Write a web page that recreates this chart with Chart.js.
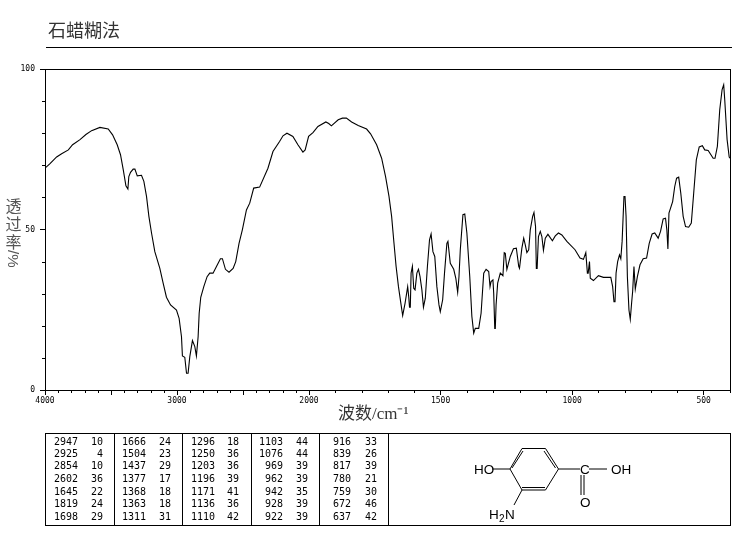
<!DOCTYPE html>
<html>
<head>
<meta charset="utf-8">
<title>石蜡糊法</title>
<script src="https://cdn.jsdelivr.net/npm/chart.js@4/dist/chart.umd.min.js"></script>
<style>
  html, body { margin: 0; padding: 0; background: #fff; }
  #page { position: relative; width: 737px; height: 539px; overflow: hidden; }
  canvas { position: absolute; left: 0; top: 0; }
  #title { position: absolute; left: 48px; top: 16px; font: 18px "Noto Sans CJK SC", sans-serif; color: #333; line-height: 26px; }
  #rule { position: absolute; left: 46px; top: 47px; width: 686px; height: 1px; background: #000; }
  #xname { position: absolute; left: 338px; top: 403px; font: 17px "Liberation Serif", "Noto Sans CJK SC", serif; color: #333; line-height: 22px; white-space: nowrap; }
  #yname { position: absolute; left: 5px; top: 196px; width: 17px; font: 16px "Noto Sans CJK SC", sans-serif; color: #555; line-height: 18px; text-align: center; }
  #yname div { height: 18px; }
  #yname .rot { height: 18px; writing-mode: vertical-rl; font: 15px "Liberation Sans", sans-serif; line-height: 17px; white-space: nowrap; }
  #peaks { position: absolute; left: 45px; top: 433px; width: 684px; height: 91px; border: 1px solid #000; box-sizing: content-box; }
  .sep { position: absolute; top: 0; width: 1px; height: 91px; background: #000; }
  .cell { position: absolute; font: 10px "DejaVu Sans Mono", monospace; color: #000; line-height: 12px; text-align: right; white-space: pre; }
  #mol { position: absolute; left: 0; top: 0; }
  #mol text { font: 13.500px "Liberation Sans", sans-serif; fill: #000; }
</style>
</head>
<body>
<div id="page">
  <canvas id="irChart" width="737" height="539"></canvas>
  <div id="title">石蜡糊法</div>
  <div id="rule"></div>
  <div id="xname">波数/cm⁻¹</div>
  <div id="yname"><div>透</div><div>过</div><div>率</div><div class="rot">/%</div></div>
  <div id="peaks"></div>
  <svg id="mol" width="737" height="539">
    <g stroke="#000" stroke-width="1" fill="none">
      <path d="M522 448.5H545.500L558.500 469L545.500 490H522L510 469Z"/>
      <path d="M523 451L512 468M544 451L555.500 468M522 487.500H545"/>
      <path d="M492 469H510M558.500 469H580M589 469H607M581 475V495M584 475V495M522 490L514 505"/>
    </g>
    <text x="474" y="474">HO</text>
    <text x="580" y="474">C</text>
    <text x="611" y="474">OH</text>
    <text x="580" y="507">O</text>
    <text x="489" y="519">H</text>
    <text x="499" y="522" style="font-size:10px">2</text>
    <text x="505" y="519">N</text>
  </svg>
</div>
<script>
// 横轴波数 (cm-1)
const wavenumbers = [4000,3962,3912,3874,3823,3791,3735,3690,3647,3584,3521,3488,3453,3428,3407,3387,3372,3365,3352,3332,3319,3301,3269,3251,3231,3213,3193,3168,3130,3105,3080,3049,3004,2984,2966,2959,2941,2928,2916,2903,2883,2865,2853,2840,2832,2820,2797,2772,2752,2727,2701,2671,2656,2633,2606,2575,2555,2530,2505,2474,2449,2419,2374,2311,2273,2223,2197,2167,2122,2084,2046,2029,2003,
  1985,1966,1936,1925,1915,1889,1873,1858,1838,1813,1781,1766,1743,1724,1709,1696,1686,1677,1669,1660,1650,1644,1635,1625,1621,1618,1615,1612,1607,1602,1597,1590,1584,1578,1571,1565,1558,1550,1542,1536,1529,1522,1514,1506,1501,1492,1485,1476,1472,1463,1450,1442,1435,1430,1425,1415,1408,1400,1389,1381,1374,1368,1355,1346,1336,1327,
  1317,1312,1308,1301,1298,1294,1292,1289,1283,1273,1263,1258,1254,1248,1235,1223,1212,1203,1200,1191,1184,1178,1172,1165,1159,1150,1145,1139,1136,1133,1128,1121,1115,1109,1102,1092,1075,1064,1052,1039,1020,989,970,957,948,942,939,934,931,919,900,881,853,846,841,837,833,827,820,815,810,803,799,795,790,784,779,774,770,765,760,752,742,730,717,707,696,686,673,664,654,645,640,636,632,618,610,603,595,587,578,569,557,547,538,528,517,505,496,483,464,457,448,439,430,424,420,411,403,400];
// 透过率 (%)
const transmittance = [69.1,70.5,72.6,73.6,74.8,76.4,78.0,79.6,80.8,81.8,81.3,79.5,76.4,73.3,68.6,63.6,62.6,66.5,67.8,68.8,68.8,66.7,66.9,65.0,60.3,54.1,48.9,43.1,37.9,33.3,28.9,26.5,24.9,22.3,16.6,10.6,10.2,5.2,5.2,10.4,15.4,13.5,10.6,16.6,23.9,28.9,32.2,35.3,36.4,36.4,38.5,40.9,40.9,37.6,36.7,37.9,40.0,45.7,49.9,56.1,58.2,62.9,63.2,69.1,74.3,77.4,79.2,80.0,79.0,76.4,74.1,74.8,79.0,
  80.2,82.1,83.5,83.0,82.3,84.2,84.7,84.7,83.5,82.4,81.3,79.8,76.4,72.2,66.5,60.3,54.1,45.7,38.5,32.2,26.5,23.2,27.0,32.2,29.1,25.8,25.8,36.4,38.5,31.7,31.2,36.4,37.6,35.3,31.2,25.8,28.6,38.5,46.8,48.6,43.1,41.6,32.2,26.5,24.4,28.1,36.4,45.7,46.3,39.5,37.6,34.8,30.4,35.3,43.7,54.6,54.8,48.9,35.3,22.9,17.7,19.2,19.2,23.9,36.4,37.6,
  36.9,32.2,33.8,34.3,30.1,19.2,19.2,26.5,33.3,36.4,35.6,42.8,42.6,37.6,41.6,44.0,44.2,38.5,37.9,44.2,47.3,45.2,42.8,43.7,49.9,54.1,55.3,50.9,37.9,37.9,47.8,49.4,47.8,43.5,47.3,48.5,46.5,48.0,48.9,48.3,46.3,43.7,41.1,40.7,42.8,36.4,36.4,40.0,34.8,34.1,35.6,35.1,35.1,32.2,27.5,27.5,36.4,40.0,42.1,40.9,46.3,60.3,60.3,54.1,35.3,24.9,22.0,27.0,30.7,38.5,31.4,35.3,39.0,40.9,41.1,45.7,48.6,48.9,47.3,49.4,53.3,53.5,49.9,43.9,55.1,58.7,63.4,66.0,66.3,61.3,54.1,50.9,50.7,52.0,61.3,71.7,75.7,76.1,74.8,74.6,72.2,72.2,75.9,87.3,93.6,95.1,90.4,78.0,72.6,72.2];

// 坐标轴刻度
const xMajorTicks = [4000,3500,3000,2500,2000,1500,1000,500];
const xTickLabels = ['4000','','3000','','2000','1500','1000','500'];
const xMinorTicks = [3900,3800,3700,3600,3400,3300,3200,3100,2900,2800,2700,2600,2400,2300,2200,2100,1900,1800,1700,1600,1400,1300,1200,1100,900,800,700,600,400];
const yMajorTicks = [0,50,100];
const yMinorTicks = [10,20,30,40,60,70,80,90];

// 峰值表: 每列 7 行
const peakWn = ['2947','2925','2854','2602','1645','1819','1698','1666','1504','1437','1377','1368','1363','1311','1296','1250','1203','1196','1171','1136','1110','1103','1076','969','962','942','928','922','916','839','817','780','759','672','637'];
const peakT = ['10','4','10','36','22','24','29','24','23','29','17','18','18','31','18','36','36','39','41','36','42','44','44','39','39','35','39','39','33','26','39','21','30','46','42'];

// 表格
const box = document.getElementById('peaks');
const sepX = [68, 136, 205, 273, 342];
const wnRight = [32, 100, 169, 237, 305];
const tRight = [57, 125, 193, 262, 331];
const rowY = [2, 14, 26, 39, 52, 64, 77];
sepX.forEach(x => {
  const s = document.createElement('div');
  s.className = 'sep';
  s.style.left = x + 'px';
  box.appendChild(s);
});
function addCell(text, right, top) {
  const d = document.createElement('div');
  d.className = 'cell';
  d.textContent = text;
  d.style.left = (right - 40) + 'px';
  d.style.width = '40px';
  d.style.top = top + 'px';
  box.appendChild(d);
}
peakWn.forEach((w, i) => {
  const col = Math.floor(i / 7), row = i % 7;
  addCell(w, wnRight[col], rowY[row]);
  addCell(peakT[i], tRight[col], rowY[row]);
});

// 横轴在 2000 处换比例: 前段 2000 个波数占 264, 后段 1600 个波数占 421
function fold(w) {
  return w >= 2000 ? (4000 - w) / 2000 * 264 : 264 + (2000 - w) / 1600 * 421;
}

// 边框和短刻度
const framePlugin = {
  id: 'frame',
  afterDraw(chart) {
    const c = chart.ctx, a = chart.chartArea;
    c.save();
    c.strokeStyle = '#000';
    c.lineWidth = 1;
    c.strokeRect(Math.round(a.left) + 0.5, Math.round(a.top) + 0.5, Math.round(a.right - a.left), Math.round(a.bottom - a.top));
    c.beginPath();
    xMinorTicks.forEach(w => {
      const x = Math.round(chart.scales.x.getPixelForValue(fold(w))) + 0.5;
      c.moveTo(x, a.bottom);
      c.lineTo(x, a.bottom + 3);
    });
    yMinorTicks.forEach(t => {
      const y = Math.round(chart.scales.y.getPixelForValue(t)) + 0.5;
      c.moveTo(a.left, y);
      c.lineTo(a.left - 3, y);
    });
    c.stroke();
    c.restore();
  }
};

new Chart(document.getElementById('irChart').getContext('2d'), {
  type: 'line',
  data: {
    datasets: [{
      data: wavenumbers.map((w, i) => ({ x: fold(w), y: transmittance[i] })),
      borderColor: '#000',
      borderWidth: 1.1,
      pointRadius: 0,
      tension: 0,
      fill: false
    }]
  },
  options: {
    responsive: false,
    animation: false,
    layout: { padding: { top: 69, right: 7 } },
    plugins: { legend: { display: false }, tooltip: { enabled: false } },
    scales: {
      x: {
        type: 'linear',
        min: 0,
        max: fold(400),
        afterFit: s => { s.height = 149; },
        afterBuildTicks: s => { s.ticks = xMajorTicks.map(w => ({ value: fold(w) })); },
        grid: { drawOnChartArea: false, color: '#000', tickLength: 5 },
        border: { color: '#000' },
        ticks: {
          autoSkip: false,
          maxRotation: 0,
          padding: 1,
          color: '#000',
          font: { family: 'DejaVu Sans Mono', size: 8 },
          callback: (v, i) => xTickLabels[i]
        }
      },
      y: {
        min: 0,
        max: 100,
        afterFit: s => { s.width = 45; },
        afterBuildTicks: s => { s.ticks = yMajorTicks.map(t => ({ value: t })); },
        grid: { drawOnChartArea: false, color: '#000', tickLength: 5 },
        border: { color: '#000' },
        ticks: {
          padding: 5,
          color: '#000',
          font: { family: 'DejaVu Sans Mono', size: 8 },
          callback: v => String(v)
        }
      }
    }
  },
  plugins: [framePlugin]
});
</script>
</body>
</html>
